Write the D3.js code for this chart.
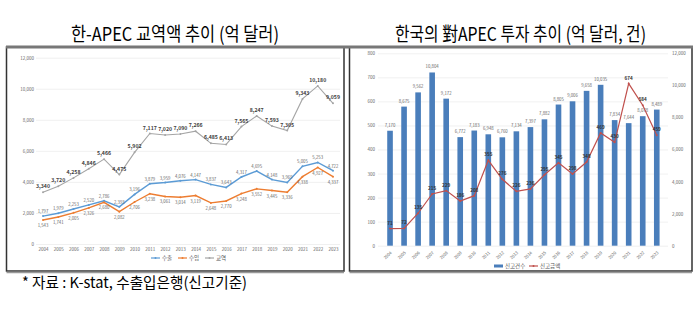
<!DOCTYPE html>
<html>
<head>
<meta charset="utf-8">
<script src="https://cdn.jsdelivr.net/npm/d3@7"></script>
<style>
  body { margin: 0; background: #fff; }
  svg { display: block; }
  text { font-family: "Noto Sans CJK KR", "Noto Sans", sans-serif; }
</style>
</head>
<body>
<svg id="chart" width="699" height="326"></svg>
<script>
// 한-APEC 교역액 (억 달러)
var tradeYears = [2004,2005,2006,2007,2008,2009,2010,2011,2012,2013,2014,2015,2016,2017,2018,2019,2020,2021,2022,2023];
var exportVals = [1797,1979,2253,2520,2786,2393,3196,3879,3959,4076,4147,3837,3643,4317,4695,4148,3969,5005,5253,4722];
var importVals = [1543,1741,2005,2326,2680,2082,2706,3238,3061,3014,3119,2648,2770,3248,3552,3445,3336,4338,4927,4337];
var tradeVals  = [3340,3720,4258,4846,5466,4475,5902,7117,7020,7090,7266,6485,6413,7565,8247,7593,7305,9343,10180,9059];
var tradeTicks = [0,2000,4000,6000,8000,10000,12000];

// 對APEC 투자: 신고건수(건), 신고금액(억 달러)
var investYears = tradeYears;
var reportCount = [7170,8675,9562,10804,9172,6772,7183,6948,6760,7134,7397,7882,8805,9006,9658,10035,7834,7644,8078,8489];
var reportAmount = [71,72,135,215,229,186,208,355,276,226,236,295,345,298,348,469,430,674,584,459];
var amountTicks = [0,100,200,300,400,500,600,700,800];
var countTicks = [0,2000,4000,6000,8000,10000,12000];

var svg = d3.select('#chart');
var fmt = d3.format(',');

svg.append('rect').attr('width', 699).attr('height', 326).attr('fill', '#fff');

// frames
function frame(x, w){
	svg.append('rect')
		.attr('x', x).attr('y', 47).attr('width', w).attr('height', 224)
		.attr('fill', 'none').attr('stroke', '#333').attr('stroke-width', 1.5);
	svg.append('line')
		.attr('x1', x).attr('x2', x + w).attr('y1', 272.5).attr('y2', 272.5)
		.attr('stroke', '#999').attr('stroke-width', 1.5);
}
frame(6.5, 337.5);
frame(349.5, 342.5);
svg.append('line')
	.attr('x1', 6).attr('x2', 693).attr('y1', 47).attr('y2', 47)
	.attr('stroke', '#777').attr('stroke-width', 3);

// titles
svg.append('text').attr('x', 71).attr('y', 41)
	.attr('font-size', 19).attr('textLength', 208).attr('lengthAdjust', 'spacingAndGlyphs')
	.text('한-APEC 교역액 추이 (억 달러)');
svg.append('text').attr('x', 395).attr('y', 41)
	.attr('font-size', 19).attr('textLength', 251).attr('lengthAdjust', 'spacingAndGlyphs')
	.text('한국의 對APEC 투자 추이 (억 달러, 건)');
svg.append('text').attr('x', 22).attr('y', 288)
	.attr('font-size', 15).attr('textLength', 225).attr('lengthAdjust', 'spacingAndGlyphs')
	.text('* 자료 : K-stat, 수출입은행(신고기준)');

function styleAxis(g){
	g.select('.domain').remove();
	g.selectAll('text').attr('font-size', 4.5).attr('fill', '#666');
}

// ---- left: trade lines ----
var xL = d3.scalePoint().domain(tradeYears).range([43, 333]);
var yL = d3.scaleLinear().domain([0, 12000]).range([244, 57.7]);

svg.append('g').attr('transform', 'translate(36,0)')
	.call(d3.axisLeft(yL).tickValues(tradeTicks).tickSize(-304).tickFormat(''))
	.call(function(g){ g.select('.domain').remove(); g.selectAll('line').attr('stroke', '#e6e6e6').attr('stroke-width', 0.6); });
svg.append('g').attr('transform', 'translate(36,0)')
	.call(d3.axisLeft(yL).tickValues(tradeTicks).tickSize(0).tickPadding(2).tickFormat(fmt))
	.call(styleAxis);
svg.append('g').attr('transform', 'translate(0,244)')
	.call(d3.axisBottom(xL).tickSize(0).tickPadding(4))
	.call(styleAxis);

var lineL = d3.line().x(function(d, i){ return xL(tradeYears[i]); }).y(function(d){ return yL(d); });

var tradeSeries = [
	{name: '수출', vals: exportVals, color: '#5b9bd5', width: 1.4, lab: -3, labColor: '#666', labSize: 4.3, weight: 400},
	{name: '수입', vals: importVals, color: '#ed7d31', width: 1.4, lab: 7, labColor: '#666', labSize: 4.3, weight: 400},
	{name: '교역', vals: tradeVals, color: '#a5a5a5', width: 1.1, lab: -4, labColor: '#404040', labSize: 5.2, weight: 700}
];

tradeSeries.forEach(function(s){
	svg.append('path').attr('d', lineL(s.vals))
		.attr('fill', 'none').attr('stroke', s.color).attr('stroke-width', s.width);
	svg.append('g').selectAll('circle').data(s.vals).enter().append('circle')
		.attr('cx', function(d, i){ return xL(tradeYears[i]); })
		.attr('cy', function(d){ return yL(d); })
		.attr('r', 1).attr('fill', s.color);
	svg.append('g').selectAll('text').data(s.vals).enter().append('text')
		.attr('x', function(d, i){ return xL(tradeYears[i]); })
		.attr('y', function(d){ return yL(d) + s.lab; })
		.attr('text-anchor', 'middle')
		.attr('font-size', s.labSize).attr('font-weight', s.weight).attr('fill', s.labColor)
		.text(function(d){ return fmt(d); });
});

// legend
var legL = svg.append('g').attr('transform', 'translate(151,258)');
tradeSeries.forEach(function(s, i){
	var g = legL.append('g').attr('transform', 'translate(' + (i * 27) + ',0)');
	g.append('line').attr('x1', 0).attr('x2', 9).attr('stroke', s.color).attr('stroke-width', 1.2);
	g.append('circle').attr('cx', 4.5).attr('r', 1).attr('fill', s.color);
	g.append('text').attr('x', 11).attr('y', 1.8).attr('font-size', 5.5).attr('fill', '#555').text(s.name);
});

// ---- right: investment bars + line ----
var xR = d3.scaleBand().domain(investYears).range([378.8, 668]).padding(0.6);
var yAmt = d3.scaleLinear().domain([0, 800]).range([245.7, 53.3]);
var yCnt = d3.scaleLinear().domain([0, 12000]).range([245.7, 53.3]);

svg.append('g').attr('transform', 'translate(378,0)')
	.call(d3.axisLeft(yAmt).tickValues(amountTicks).tickSize(-290).tickFormat(''))
	.call(function(g){ g.select('.domain').remove(); g.selectAll('line').attr('stroke', '#e6e6e6').attr('stroke-width', 0.6); });
svg.append('g').attr('transform', 'translate(378,0)')
	.call(d3.axisLeft(yAmt).tickValues(amountTicks).tickSize(0).tickPadding(3).tickFormat(fmt))
	.call(styleAxis);
svg.append('g').attr('transform', 'translate(669,0)')
	.call(d3.axisRight(yCnt).tickValues(countTicks).tickSize(0).tickPadding(3).tickFormat(fmt))
	.call(styleAxis);
svg.append('g').attr('transform', 'translate(0,247)')
	.call(d3.axisBottom(xR).tickSize(0).tickPadding(0))
	.call(styleAxis)
	.call(function(g){
		g.selectAll('text').attr('font-size', 4.2)
			.attr('text-anchor', 'end').attr('dy', 0)
			.attr('transform', 'translate(2,6) rotate(-45)');
	});

svg.append('g').selectAll('rect').data(reportCount).enter().append('rect')
	.attr('x', function(d, i){ return xR(investYears[i]); })
	.attr('y', function(d){ return yCnt(d); })
	.attr('width', xR.bandwidth())
	.attr('height', function(d){ return yCnt(0) - yCnt(d); })
	.attr('fill', '#4a7ebb');
svg.append('g').selectAll('text').data(reportCount).enter().append('text')
	.attr('x', function(d, i){ return xR(investYears[i]) + xR.bandwidth() / 2; })
	.attr('y', function(d){ return yCnt(d) - 4; })
	.attr('text-anchor', 'middle').attr('font-size', 4.3).attr('fill', '#666')
	.text(function(d){ return fmt(d); });

var cx = function(i){ return xR(investYears[i]) + xR.bandwidth() / 2; };
var lineR = d3.line().x(function(d, i){ return cx(i); }).y(function(d){ return yAmt(d); });
svg.append('path').attr('d', lineR(reportAmount))
	.attr('fill', 'none').attr('stroke', '#c0504d').attr('stroke-width', 1.2);
svg.append('g').selectAll('circle').data(reportAmount).enter().append('circle')
	.attr('cx', function(d, i){ return cx(i); })
	.attr('cy', function(d){ return yAmt(d); })
	.attr('r', 1).attr('fill', '#c0504d');
svg.append('g').selectAll('text').data(reportAmount).enter().append('text')
	.attr('x', function(d, i){ return cx(i); })
	.attr('y', function(d){ return yAmt(d) - 4; })
	.attr('text-anchor', 'middle').attr('font-size', 4.6).attr('font-weight', 700).attr('fill', '#333')
	.text(function(d){ return fmt(d); });

// legend
var legR = svg.append('g').attr('transform', 'translate(494,266)');
legR.append('rect').attr('x', 0).attr('y', -1.5).attr('width', 9).attr('height', 3).attr('fill', '#4a7ebb');
legR.append('text').attr('x', 11).attr('y', 1.8).attr('font-size', 5.5).attr('fill', '#555').text('신고건수');
legR.append('line').attr('x1', 35).attr('x2', 44).attr('stroke', '#c0504d').attr('stroke-width', 1.2);
legR.append('circle').attr('cx', 39.5).attr('r', 1).attr('fill', '#c0504d');
legR.append('text').attr('x', 46).attr('y', 1.8).attr('font-size', 5.5).attr('fill', '#555').text('신고금액');
</script>
</body>
</html>
